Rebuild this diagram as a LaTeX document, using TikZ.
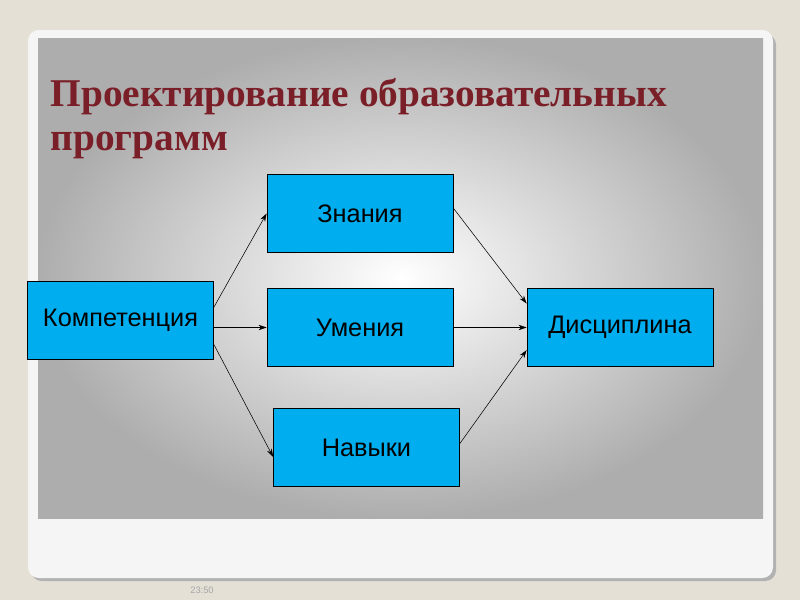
\documentclass[tikz,border=0pt]{standalone}
\usepackage{fontspec}
\setmainfont{Liberation Serif}
\newfontfamily\boxfont{Liberation Sans}
\usetikzlibrary{arrows.meta}
\definecolor{bgc}{HTML}{E4E0D6}
\definecolor{ttl}{HTML}{7A1E28}
\definecolor{cy}{HTML}{00AEEF}
\tikzset{
  bx/.style={draw=black, fill=cy, line width=0.6pt, minimum width=139.5pt, minimum height=59pt, inner sep=0pt, font=\boxfont\fontsize{19}{22}\selectfont},
  ar/.style={-{Stealth[length=6pt,width=4pt]}, line width=0.4pt}
}
\begin{document}
\begin{tikzpicture}[x=0.75pt,y=-0.75pt]
\useasboundingbox (0,0) rectangle (800,600);
\fill[bgc] (0,0) rectangle (800,600);
\fill[black!30,rounded corners=8pt] (31,34) rectangle (776,581);
\fill[white!96!black,rounded corners=8pt] (28,30) rectangle (773,578);
\shade[inner color=white, outer color=black!32] (38,38) rectangle (763,518);
\node[anchor=west, text=ttl, font=\bfseries\fontsize{29.5}{34}\selectfont] (t1) at (46,97) {Проектирование образовательных};
\node[anchor=west, text=ttl, font=\bfseries\fontsize{29.5}{34}\selectfont] (t2) at (46,145) {программ};
\node[bx] (k) at (120.5,320.5) {Компетенция};
\node[bx] (z) at (360,213.5) {Знания};
\node[bx] (u) at (360,327.5) {Умения};
\node[bx] (n) at (366.5,447.5) {Навыки};
\node[bx] (d) at (620,327.5) {Дисциплина};
\coordinate (ku) at (k.east |- u.west);
\draw[ar] ([yshift=10pt]k.east) -- (z.west);
\draw[ar] (ku) -- (u.west);
\draw[ar] ([yshift=-18pt]k.east) -- ([yshift=-7pt]n.west);
\draw[ar] ([yshift=4pt]z.east) -- ([yshift=18pt]d.west);
\draw[ar] (u.east) -- (d.west);
\draw[ar] ([yshift=3pt]n.east) -- ([yshift=-17pt]d.west);
\node[text=black!35, font=\boxfont\fontsize{7}{8}\selectfont] (tm) at (202,590) {23:50};
\end{tikzpicture}
\end{document}
